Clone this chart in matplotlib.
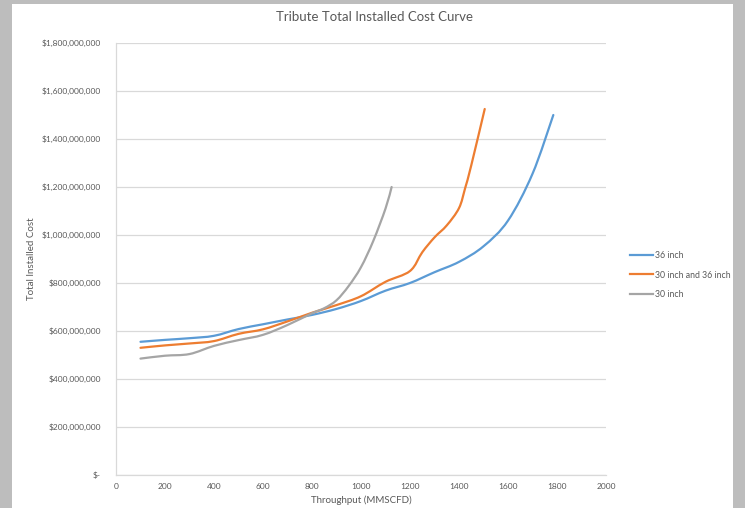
import numpy as np
import matplotlib
matplotlib.use("Agg")
import matplotlib.pyplot as plt
from matplotlib.path import Path
from matplotlib.patches import PathPatch, Rectangle
from matplotlib.lines import Line2D
from matplotlib.ticker import FuncFormatter

# ---- data (values in $ millions) ----
series_names = ["36 inch", "30 inch and 36 inch", "30 inch"]

x_36 = [100, 200, 300, 400, 500, 600, 700, 800, 900, 1000, 1100, 1200, 1300, 1400, 1500, 1600, 1700, 1785]
y_36 = [555, 563, 570, 580, 608, 628, 648, 667, 692, 725, 768, 800, 845, 888, 953, 1060, 1255, 1500]

x_30_36 = [100, 200, 300, 400, 500, 600, 700, 800, 900, 1000, 1100, 1200, 1250, 1300, 1350, 1400, 1425, 1450, 1505]
y_30_36 = [530, 540, 548, 558, 588, 607, 640, 676, 708, 745, 805, 850, 928, 990, 1040, 1112, 1195, 1290, 1525]

x_30 = [100, 200, 300, 400, 500, 600, 700, 800, 850, 900, 950, 1000, 1050, 1100, 1125]
y_30 = [485, 497, 504, 538, 562, 584, 625, 674, 695, 728, 788, 866, 975, 1110, 1200]

x_ticks = [0, 200, 400, 600, 800, 1000, 1200, 1400, 1600, 1800, 2000]
y_ticks = [0, 200, 400, 600, 800, 1000, 1200, 1400, 1600, 1800]

colors = ["#5B9BD5", "#ED7D31", "#A5A5A5"]
text_color = "#595959"

plt.rcParams['font.family'] = ['Lato', 'DejaVu Sans']

fig = plt.figure(figsize=(7.45, 5.08), dpi=100)
fig.patch.set_facecolor("#BDBDBD")
bg = Rectangle((12 / 745, 0), (733 - 12) / 745, (508 - 4) / 508,
               transform=fig.transFigure, facecolor="white",
               edgecolor="none", zorder=-10)
fig.patches.append(bg)

ax = fig.add_axes([116 / 745, (508 - 475) / 508, (606 - 116) / 745, (475 - 43) / 508])
ax.set_facecolor("none")
ax.set_zorder(1)


def smooth_patch(xs, ys, color):
    pts = np.column_stack([xs, ys]).astype(float)
    n = len(pts)
    verts = [pts[0]]
    codes = [Path.MOVETO]
    for i in range(n - 1):
        p0 = pts[i - 1] if i > 0 else pts[i]
        p1 = pts[i]
        p2 = pts[i + 1]
        p3 = pts[i + 2] if i + 2 < n else pts[i + 1]
        c1 = p1 + (p2 - p0) / 6.0
        c2 = p2 - (p3 - p1) / 6.0
        verts += [c1, c2, p2]
        codes += [Path.CURVE4] * 3
    return PathPatch(Path(verts, codes), facecolor="none", edgecolor=color,
                     lw=1.6, capstyle="round", joinstyle="round",
                     transform=ax.transData, zorder=3)


for xs, ys, c in zip([x_36, x_30_36, x_30], [y_36, y_30_36, y_30], colors):
    ax.add_patch(smooth_patch(xs, ys, c))

ax.set_xlim(0, 2000)
ax.set_ylim(0, 1800)
ax.set_xticks(x_ticks)
ax.set_yticks(y_ticks)


def yfmt(v, pos):
    if v == 0:
        return "$-"
    return "${:,.0f}".format(v * 1e6)


ax.yaxis.set_major_formatter(FuncFormatter(yfmt))
ax.tick_params(axis="both", length=0, labelsize=6.0, colors=text_color)
ax.tick_params(axis="y", pad=11)
ax.tick_params(axis="x", pad=6)
ax.grid(axis="y", color="#D9D9D9", lw=0.9)
ax.set_axisbelow(True)
for s in ["top", "right"]:
    ax.spines[s].set_visible(False)
for s in ["left", "bottom"]:
    ax.spines[s].set_color("#D9D9D9")
    ax.spines[s].set_linewidth(0.9)

ax.set_xlabel("Throughput (MMSCFD)", fontsize=7.0, color=text_color, labelpad=4)
ax.set_ylabel("Total Installed Cost", fontsize=7.0, color=text_color, labelpad=4)
fig.text(374 / 745, 1 - 17 / 508, "Tribute Total Installed Cost Curve",
         ha="center", va="center", fontsize=9.5, color=text_color)

handles = [Line2D([], [], color=c, lw=1.6) for c in colors]
leg = fig.legend(handles, series_names, loc="center left",
                 bbox_to_anchor=(622 / 745, 1 - 275 / 508), frameon=False,
                 fontsize=6.3, handlelength=2.6, handletextpad=0.3,
                 labelspacing=1.15, labelcolor=text_color)

fig.savefig("out.png", dpi=100, facecolor=fig.get_facecolor())
